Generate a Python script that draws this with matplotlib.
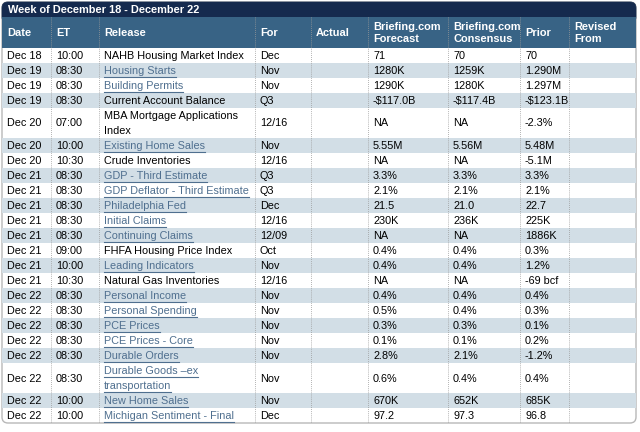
import matplotlib
matplotlib.use("Agg")
import matplotlib.pyplot as plt
from matplotlib.patches import Rectangle, FancyBboxPatch

plt.rcParams['font.family'] = ['Liberation Sans', 'DejaVu Sans']

title = "Week of December 18 - December 22"
headers = ["Date", "ET", "Release", "For", "Actual", "Briefing.com\nForecast",
           "Briefing.com\nConsensus", "Prior", "Revised\nFrom"]

dates = ["Dec 18", "Dec 19", "Dec 19", "Dec 19", "Dec 20", "Dec 20", "Dec 20",
         "Dec 21", "Dec 21", "Dec 21", "Dec 21", "Dec 21", "Dec 21", "Dec 21", "Dec 21",
         "Dec 22", "Dec 22", "Dec 22", "Dec 22", "Dec 22", "Dec 22", "Dec 22", "Dec 22"]
times = ["10:00", "08:30", "08:30", "08:30", "07:00", "10:00", "10:30",
         "08:30", "08:30", "08:30", "08:30", "08:30", "09:00", "10:00", "10:30",
         "08:30", "08:30", "08:30", "08:30", "08:30", "08:30", "10:00", "10:00"]
releases = ["NAHB Housing Market Index", "Housing Starts", "Building Permits",
            "Current Account Balance", "MBA Mortgage Applications\nIndex",
            "Existing Home Sales", "Crude Inventories", "GDP - Third Estimate",
            "GDP Deflator - Third Estimate", "Philadelphia Fed", "Initial Claims",
            "Continuing Claims", "FHFA Housing Price Index", "Leading Indicators",
            "Natural Gas Inventories", "Personal Income", "Personal Spending",
            "PCE Prices", "PCE Prices - Core", "Durable Orders",
            "Durable Goods \u2013ex\ntransportation", "New Home Sales",
            "Michigan Sentiment - Final"]
is_link = [False, True, True, False, False, True, False, True, True, True, True,
           True, False, True, False, True, True, True, True, True, True, True, True]
periods = ["Dec", "Nov", "Nov", "Q3", "12/16", "Nov", "12/16", "Q3", "Q3", "Dec",
           "12/16", "12/09", "Oct", "Nov", "12/16", "Nov", "Nov", "Nov", "Nov",
           "Nov", "Nov", "Nov", "Dec"]
actual = [""] * 23
forecast = ["71", "1280K", "1290K", "-$117.0B", "NA", "5.55M", "NA", "3.3%", "2.1%",
            "21.5", "230K", "NA", "0.4%", "0.4%", "NA", "0.4%", "0.5%", "0.3%",
            "0.1%", "2.8%", "0.6%", "670K", "97.2"]
consensus = ["70", "1259K", "1280K", "-$117.4B", "NA", "5.56M", "NA", "3.3%", "2.1%",
             "21.0", "236K", "NA", "0.4%", "0.4%", "NA", "0.4%", "0.4%", "0.3%",
             "0.1%", "2.1%", "0.4%", "652K", "97.3"]
prior = ["70", "1.290M", "1.297M", "-$123.1B", "-2.3%", "5.48M", "-5.1M", "3.3%",
         "2.1%", "22.7", "225K", "1886K", "0.3%", "1.2%", "-69 bcf", "0.4%", "0.3%",
         "0.1%", "0.2%", "-1.2%", "0.4%", "685K", "96.8"]
revised = [""] * 23

W, H = 640, 432
fig = plt.figure(figsize=(6.4, 4.32), dpi=100)
ax = fig.add_axes([0, 0, 1, 1])
ax.set_xlim(0, W)
ax.set_ylim(H, 0)
ax.axis('off')

FS = 7.8
FSB = 7.9
col_x = [2, 51, 99, 255, 311, 368, 448, 520, 569, 636]
pad = 5
top_title, title_h = 2, 15
hdr_top, hdr_bot = 17, 48
row_h = 15

navy = "#152a4e"
steel = "#386385"
shade = "#d2dee6"
link_c = "#4f6f8f"
grid_c = "#9a9a9a"

# outer border
ax.add_patch(FancyBboxPatch((col_x[0], top_title), col_x[-1] - col_x[0], 423 - top_title,
                            boxstyle="round,pad=0,rounding_size=6", fc="white",
                            ec="#b8b8b8", lw=1.0, zorder=0))
# title bar
ax.add_patch(FancyBboxPatch((col_x[0], top_title), col_x[-1] - col_x[0], title_h + 6,
                            boxstyle="round,pad=0,rounding_size=6", fc=navy, ec=navy,
                            lw=0.5, zorder=1))
ax.add_patch(Rectangle((col_x[0], top_title + 8), col_x[-1] - col_x[0], title_h - 8 + 1,
                       fc=navy, ec='none', zorder=1))
ax.text(col_x[0] + 6, top_title + title_h / 2 + 0.5, title, color="white",
        fontweight="bold", fontsize=FSB, va="center", ha="left", zorder=5)
# header
ax.add_patch(Rectangle((col_x[0], hdr_top), col_x[-1] - col_x[0], hdr_bot - hdr_top,
                       fc=steel, ec='none', zorder=1))
for i, h in enumerate(headers):
    ax.text(col_x[i] + pad, (hdr_top + hdr_bot) / 2 + 0.5, h, color="white",
            fontweight="bold", fontsize=FSB, va="center", ha="left",
            linespacing=1.3, zorder=5)

columns = [dates, times, releases, periods, actual, forecast, consensus, prior, revised]
links = []
y = hdr_bot
for r in range(len(dates)):
    nlines = max(len(c[r].split("\n")) for c in columns)
    h = row_h * nlines
    if r % 2 == 1:
        ax.add_patch(Rectangle((col_x[0], y), col_x[-1] - col_x[0], h, fc=shade,
                               ec='none', zorder=1))
    for ci, col in enumerate(columns):
        txt = col[r]
        if not txt:
            continue
        if ci == 2 and is_link[r]:
            for li, line in enumerate(txt.split("\n")):
                ly = y + row_h * li + row_h / 2 + 0.5
                t = ax.text(col_x[ci] + pad, ly, line, color=link_c, fontsize=FS,
                            va="center", ha="left", zorder=5)
                links.append((t, ly))
        else:
            ax.text(col_x[ci] + pad, y + h / 2 + 0.5, txt, color="black", fontsize=FS,
                    va="center", ha="left", linespacing=1.6, zorder=5)
    y += h

# vertical dotted separators
for x in col_x[1:-1]:
    ax.plot([x, x], [hdr_top, y], color=grid_c, lw=0.6, ls=(0, (1, 1.5)), zorder=3)

# underline links
fig.canvas.draw()
renderer = fig.canvas.get_renderer()
inv = ax.transData.inverted()
for t, ly in links:
    bb = t.get_window_extent(renderer)
    (x0, _), (x1, _) = inv.transform([[bb.x0, bb.y0], [bb.x1, bb.y1]])
    ax.plot([x0, x1], [ly + 5.5, ly + 5.5], color=link_c, lw=0.8, zorder=5)

fig.savefig("out.png", dpi=100)
